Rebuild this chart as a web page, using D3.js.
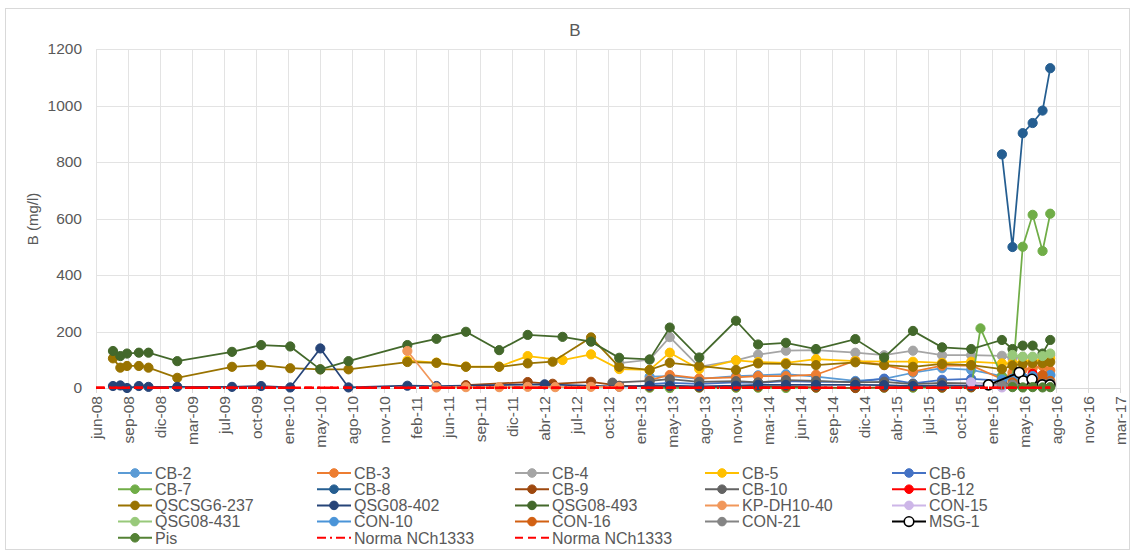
<!DOCTYPE html>
<html>
<head>
<meta charset="utf-8">
<script src="https://cdn.jsdelivr.net/npm/d3@7"></script>
<style>
    body { margin: 0; background: #fff; }
    svg text { font-family: "Liberation Sans", Arial, sans-serif; fill: #595959; }
</style>
</head>
<body>
<div id="chart"></div>
<script>
// series names, in legend order
const names = ['CB-2', 'CB-3', 'CB-4', 'CB-5', 'CB-6', 'CB-7', 'CB-8', 'CB-9', 'CB-10', 'CB-12',
    'QSCSG6-237', 'QSG08-402', 'QSG08-493', 'KP-DH10-40', 'CON-15', 'QSG08-431', 'CON-10', 'CON-16',
    'CON-21', 'MSG-1', 'Pis', 'Norma NCh1333', 'Norma NCh1333']

// sampling dates and values (mg/l) for each series
const dLong = ['2008-07-24', '2008-08-16', '2008-09-06', '2008-10-13', '2008-11-12', '2009-02-10', '2009-07-31',
    '2009-10-30', '2010-01-29', '2010-05-03', '2010-07-30', '2011-01-30', '2011-05-01']
const d13to15 = ['2013-02-25', '2013-04-29', '2013-07-30', '2013-11-22', '2014-01-30', '2014-04-27', '2014-07-30',
    '2014-11-30', '2015-02-28', '2015-05-29', '2015-08-28', '2015-11-27']
const d16 = ['2016-03-02', '2016-04-04', '2016-05-06', '2016-06-06', '2016-07-07', '2016-07-31']

const dCB2 = [...d13to15, ...d16]
const vCB2 = [40, 42, 32, 42, 45, 49, 40, 25, 32, 54, 70, 64, 42, 35, 38, 40, 44, 46]
const dCB3 = [...d13to15, ...d16]
const vCB3 = [28, 46, 34, 38, 42, 42, 47, 97, 81, 58, 79, 80, 32, 55, 65, 70, 78, 62]
const dCB4 = ['2012-11-22', ...d13to15, ...d16]
const vCB4 = [88, 100, 180, 75, 98, 118, 132, 134, 125, 116, 132, 116, 116, 114, 105, 110, 108, 112, 115]
const dCB5 = ['2011-01-30', '2011-05-01', '2011-08-01', '2011-11-13', '2012-02-10', '2012-05-29', '2012-08-26',
    '2012-11-22', ...d13to15, ...d16]
const vCB5 = [97, 90, 76, 76, 113, 99, 119, 67, 64, 125, 67, 98, 92, 89, 102, 95, 93, 93, 89, 93, 87, 88, 95, 96, 100, 105]
const dCB6 = [...d13to15, '2016-03-02']
const vCB6 = [14, 18, 15, 20, 18, 24, 22, 22, 33, 16, 29, 32, 26]
const dCB7 = [...d13to15, '2015-12-26', ...d16]
const vCB7 = [1, 0, 1, 1, 1, 0, 1, 0, 1, 1, 1, 2, 211, 42, 30, 500, 613, 485, 617]
const dCB8 = [...d16]
const vCB8 = [827, 499, 902, 938, 982, 1132]
const dCB9 = ['2011-08-01', '2012-02-10', '2012-04-28', '2012-08-26', '2012-11-22', ...d13to15, '2016-03-02']
const vCB9 = [10, 21, 15, 22, 8, 5, 6, 3, 5, 5, 5, 2, 0, 2, 5, 2, 3, 5]
const dCB10 = ['2012-11-01', ...d13to15, '2016-03-02', '2016-05-06', '2016-07-31']
const vCB10 = [19, 25, 31, 22, 24, 20, 28, 25, 20, 22, 14, 18, 16, 15, 14, 12]
const dCB12 = ['2016-05-06', '2016-06-06', '2016-07-07', '2016-07-31']
const vCB12 = [18, 50, 30, 15]
const dQSCSG6 = [...dLong, '2011-08-01', '2011-11-13', '2012-02-10', '2012-04-28', '2012-08-26', '2012-11-22', ...d13to15, ...d16]
const vQSCSG6 = [105, 72, 78, 78, 72, 36, 75, 81, 70, 66, 66, 92, 89, 75, 75, 87, 93, 179, 75,
    64, 89, 78, 64, 87, 85, 81, 91, 81, 75, 85, 81, 67, 80, 85, 88, 88, 92]
const dQSG402 = [...dLong, '2012-04-03', '2012-11-22', ...d13to15, '2016-03-02']
const vQSG402 = [7, 9, 0, 7, 4, 4, 4, 7, 2, 140, 2, 8, 7, 13, 5, 8, 8, 6, 8, 11, 11, 11, 11, 10, 7, 9, 8, 6]
const dQSG493 = [...dLong, '2011-08-01', '2011-11-13', '2012-02-10', '2012-05-29', '2012-08-26', '2012-11-22', ...d13to15, ...d16]
const vQSG493 = [131, 113, 122, 125, 125, 95, 128, 152, 147, 66, 95, 152, 174, 199, 134, 188, 181, 164, 107,
    101, 214, 108, 238, 154, 160, 138, 173, 108, 202, 144, 138, 170, 138, 150, 150, 122, 170]
const dKP = ['2011-01-30', '2011-05-01', '2011-08-01', '2011-11-13', '2012-02-10', '2012-05-06', '2012-08-26', '2012-11-22']
const vKP = [131, 2, 3, 3, 4, 3, 4, 4]
const dCON15 = ['2015-11-27', '2016-03-02']
const vCON15 = [20, 2]
const dQSG431 = ['2016-04-04', '2016-05-06', '2016-06-06', '2016-07-07', '2016-07-31']
const vQSG431 = [117, 111, 111, 113, 122]
const dCON10 = [...d16]
const vCON10 = [30, 33, 38, 42, 38, 46]
const dCON16 = ['2016-04-04', '2016-05-06', '2016-06-06', '2016-07-07', '2016-07-31']
const vCON16 = [20, 6, 10, 46, 25]
const dCON21 = [...d16]
const vCON21 = [10, 12, 15, 20, 15, 18]
const dMSG1 = ['2016-01-20', '2016-04-25', '2016-05-08', '2016-06-04', '2016-07-06', '2016-07-30']
const vMSG1 = [11, 55, 25, 31, 11, 11]
const dPis = ['2016-04-04', '2016-05-06', '2016-06-06', '2016-07-07', '2016-07-31']
const vPis = [3, 2, 3, 2, 3]
const dNorma = ['2008-06-01', '2016-07-31']
const vNorma = [0.75, 0.75]

const yTicks = [0, 200, 400, 600, 800, 1000, 1200]
const meses = ['ene', 'feb', 'mar', 'abr', 'may', 'jun', 'jul', 'ago', 'sep', 'oct', 'nov', 'dic']

// styles
const colours = ['#5B9BD5', '#ED7D31', '#A5A5A5', '#FFC000', '#4472C4', '#70AD47', '#255E91', '#9E480E', '#636363', '#FF0000',
    '#997300', '#264478', '#43682B', '#F1975A', '#CDB6E8', '#98C97A', '#4A94D8', '#D26012',
    '#848484', '#000000', '#548235', '#FF0000', '#FF0000']

const seriesData = [[dCB2, vCB2], [dCB3, vCB3], [dCB4, vCB4], [dCB5, vCB5], [dCB6, vCB6], [dCB7, vCB7], [dCB8, vCB8],
    [dCB9, vCB9], [dCB10, vCB10], [dCB12, vCB12], [dQSCSG6, vQSCSG6], [dQSG402, vQSG402], [dQSG493, vQSG493],
    [dKP, vKP], [dCON15, vCON15], [dQSG431, vQSG431], [dCON10, vCON10], [dCON16, vCON16], [dCON21, vCON21],
    [dMSG1, vMSG1], [dPis, vPis], [dNorma, vNorma], [dNorma, vNorma]]

const w = 1136
const h = 555
const pLeft = 96
const pRight = 1120
const pTop = 49
const pBottom = 388

const parse = d3.utcParse('%Y-%m-%d')
const x0 = parse('2008-06-01')
// Excel date axis: a major unit of 100 days
const xTicks = d3.range(0, 33).map(i => d3.utcDay.offset(x0, i * 100))
const fmt = d => meses[d.getUTCMonth()] + '-' + String(d.getUTCFullYear()).slice(2)

const x = d3.scaleUtc().domain([x0, xTicks[32]]).range([pLeft, pRight])
const y = d3.scaleLinear().domain([0, 1200]).range([pBottom, pTop])

const svg = d3.select('#chart').append('svg')
    .attr('width', w)
    .attr('height', h)

// chart border
svg.append('rect')
    .attr('x', 5.5).attr('y', 8.5)
    .attr('width', 1124).attr('height', 541)
    .attr('fill', '#fff')
    .attr('stroke', '#D9D9D9')

// title
svg.append('text')
    .attr('x', 575).attr('y', 36)
    .attr('text-anchor', 'middle')
    .style('font-size', '17px')
    .text('B')

// y axis title
svg.append('text')
    .attr('transform', 'translate(38,219) rotate(-90)')
    .attr('text-anchor', 'middle')
    .style('font-size', '15px')
    .text('B (mg/l)')

// grid lines
svg.append('g').selectAll('line')
    .data(yTicks)
    .enter().append('line')
    .attr('x1', pLeft).attr('x2', pRight)
    .attr('y1', d => Math.round(y(d)) + 0.5).attr('y2', d => Math.round(y(d)) + 0.5)
    .attr('stroke', '#E3E3E3')

svg.append('g').selectAll('line')
    .data(xTicks)
    .enter().append('line')
    .attr('x1', d => Math.round(x(d)) + 0.5).attr('x2', d => Math.round(x(d)) + 0.5)
    .attr('y1', pTop).attr('y2', pBottom)
    .attr('stroke', '#E3E3E3')

// y axis
const yAxis = d3.axisLeft(y).tickValues(yTicks).tickFormat(d3.format('d')).tickSize(0).tickPadding(14)
svg.append('g')
    .attr('transform', `translate(${pLeft},0)`)
    .call(yAxis)
    .call(g => g.select('.domain').remove())
    .selectAll('text')
    .style('font-size', '15.5px')
    .attr('fill', '#595959')

// x axis
const xAxis = d3.axisBottom(x).tickValues(xTicks).tickFormat(fmt).tickSize(5).tickSizeOuter(0)
const gx = svg.append('g')
    .attr('transform', `translate(0,${pBottom})`)
    .call(xAxis)
gx.select('.domain').attr('stroke', '#D9D9D9')
gx.selectAll('line').attr('stroke', '#D9D9D9')
gx.selectAll('text')
    .attr('fill', '#595959')
    .style('font-size', '15.5px')
    .attr('text-anchor', 'end')
    .attr('transform', 'rotate(-90)')
    .attr('x', -8)
    .attr('y', 0)
    .attr('dy', '0.35em')

// series lines and markers
const line = d3.line().x(d => x(d[0])).y(d => y(d[1]))
const plot = svg.append('g')

seriesData.forEach(([dates, vals], i) => {
    const pts = dates.map((d, j) => [parse(d), vals[j]])
    const isNorma = i >= 21
    const path = plot.append('path')
        .datum(pts)
        .attr('d', line)
        .attr('fill', 'none')
        .attr('stroke', colours[i])
        .attr('stroke-width', isNorma ? 2.5 : 1.75)
    if (i === 21) path.attr('stroke-dasharray', '9,4,2,4')
    if (i === 22) path.attr('stroke-dasharray', '8,5')
    if (isNorma) return
    plot.append('g').selectAll('circle')
        .data(pts)
        .enter().append('circle')
        .attr('cx', d => x(d[0]))
        .attr('cy', d => y(d[1]))
        .attr('r', i === 19 ? 5 : 4.6)
        .attr('fill', i === 19 ? '#fff' : colours[i])
        .attr('stroke', colours[i])
        .attr('stroke-width', i === 19 ? 1.6 : 1)
})

// legend
const colX = [118, 317, 515, 705, 892]
const legend = svg.append('g')
names.forEach((n, i) => {
    const lx = colX[i % 5]
    const ly = 473 + Math.floor(i / 5) * 16.2
    const l = legend.append('line')
        .attr('x1', lx).attr('x2', lx + 34)
        .attr('y1', ly).attr('y2', ly)
        .attr('stroke', colours[i])
        .attr('stroke-width', 2)
    if (i === 21) l.attr('stroke-dasharray', '9,4,2,4')
    if (i === 22) l.attr('stroke-dasharray', '8,5')
    if (i < 21) {
        legend.append('circle')
            .attr('cx', lx + 17).attr('cy', ly)
            .attr('r', i === 19 ? 4.8 : 4.3)
            .attr('fill', i === 19 ? '#fff' : colours[i])
            .attr('stroke', colours[i])
            .attr('stroke-width', i === 19 ? 1.6 : 1)
    }
    legend.append('text')
        .attr('x', lx + 37).attr('y', ly)
        .attr('dy', '0.36em')
        .style('font-size', '16px')
        .text(n)
})
</script>
</body>
</html>
